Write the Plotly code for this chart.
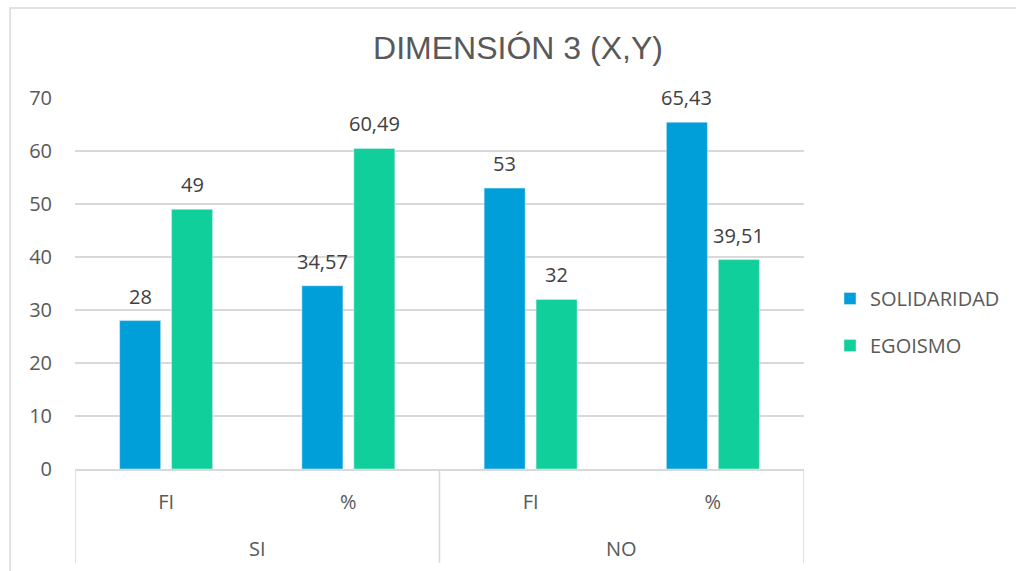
import plotly.graph_objects as go

categories = ["FI", "%", "FI", "%"]
groups = ["SI", "NO"]
solidaridad = [28, 34.57, 53, 65.43]
egoismo = [49, 60.49, 32, 39.51]
y_ticks = [0, 10, 20, 30, 40, 50, 60, 70]

BLUE = "#009fd9"
GREEN = "#11cf9b"
GRID = "#d9d9d9"
TXT = "#595959"
LBL = "#404040"
FONT = "Open Sans, Segoe UI, sans-serif"

W, H = 1016, 571
ML, MR, MT, MB = 75, 211, 98, 102
PW, PH = W - ML - MR, H - MT - MB

BARGAP = 0.43
BARGROUPGAP = 0.21
xs = list(range(len(categories)))

fig = go.Figure()
fig.add_trace(go.Bar(x=xs, y=solidaridad, name="SOLIDARIDAD", marker_color=BLUE,
                     legendgroup="a"))
fig.add_trace(go.Bar(x=xs, y=egoismo, name="EGOISMO", marker_color=GREEN,
                     legendgroup="b"))

def fmt(v):
    return f"{v:g}".replace(".", ",")

off = (1 - BARGAP) / 4
ann = []
for i, (s, e) in enumerate(zip(solidaridad, egoismo)):
    for xv, yv in ((i - off, s), (i + off, e)):
        ann.append(dict(x=xv, y=yv, xref="x", yref="y", text=fmt(yv), showarrow=False,
                        yanchor="bottom", yshift=9,
                        font=dict(family=FONT, size=20, color=LBL)))

# group labels
for gi, g in enumerate(groups):
    ann.append(dict(x=gi * 2 + 0.5, y=0, xref="x", yref="paper", text=g, showarrow=False,
                    yanchor="middle", yshift=-79,
                    font=dict(family=FONT, size=20, color=TXT)))

shapes = []
div_bottom = -(563 - 469) / PH
for xv in (-0.5, 1.5, 3.5):
    shapes.append(dict(type="line", xref="x", yref="paper", x0=xv, x1=xv, y0=0, y1=div_bottom,
                       line=dict(color=GRID, width=1.5)))
# chart border
shapes.append(dict(type="rect", xref="paper", yref="paper",
                   x0=(10 - ML) / PW, x1=(1030 - ML) / PW,
                   y0=-(590 - (H - MB)) / PH, y1=((H - MB) - 8) / PH,
                   line=dict(color=GRID, width=1.5), fillcolor="rgba(0,0,0,0)", layer="below"))

fig.update_layout(
    width=W, height=H,
    margin=dict(l=ML, r=MR, t=MT, b=MB, pad=0),
    paper_bgcolor="white", plot_bgcolor="white",
    barmode="group", bargap=BARGAP, bargroupgap=BARGROUPGAP,
    title=dict(text="DIMENSIÓN 3 (X,Y)", x=518 / W, xanchor="center", y=1 - 48 / H, yanchor="middle",
               font=dict(family="Liberation Sans, Arial, sans-serif", size=32, color=TXT)),
    xaxis=dict(tickmode="array", tickvals=xs, ticktext=categories, range=[-0.5, 3.5],
               showgrid=False, zeroline=False, showline=True, linecolor=GRID, linewidth=1.5,
               ticks="", ticklabelstandoff=14,
               tickfont=dict(family=FONT, size=20, color=TXT)),
    yaxis=dict(range=[0, 70], tickvals=y_ticks, showgrid=True, gridcolor=GRID, gridwidth=1.5,
               zeroline=False, showline=False, ticks="", ticklabelstandoff=22,
               tickfont=dict(family=FONT, size=20, color=TXT)),
    legend=dict(x=(830 - ML) / PW, xanchor="left", y=(H - MB - 322) / PH, yanchor="middle",
                font=dict(family=FONT, size=20, color=TXT), tracegroupgap=18,
                bgcolor="rgba(0,0,0,0)"),
    annotations=ann, shapes=shapes,
)

fig.write_html("out.html", config={"displayModeBar": False},
               post_script="document.body.style.margin='0';")
